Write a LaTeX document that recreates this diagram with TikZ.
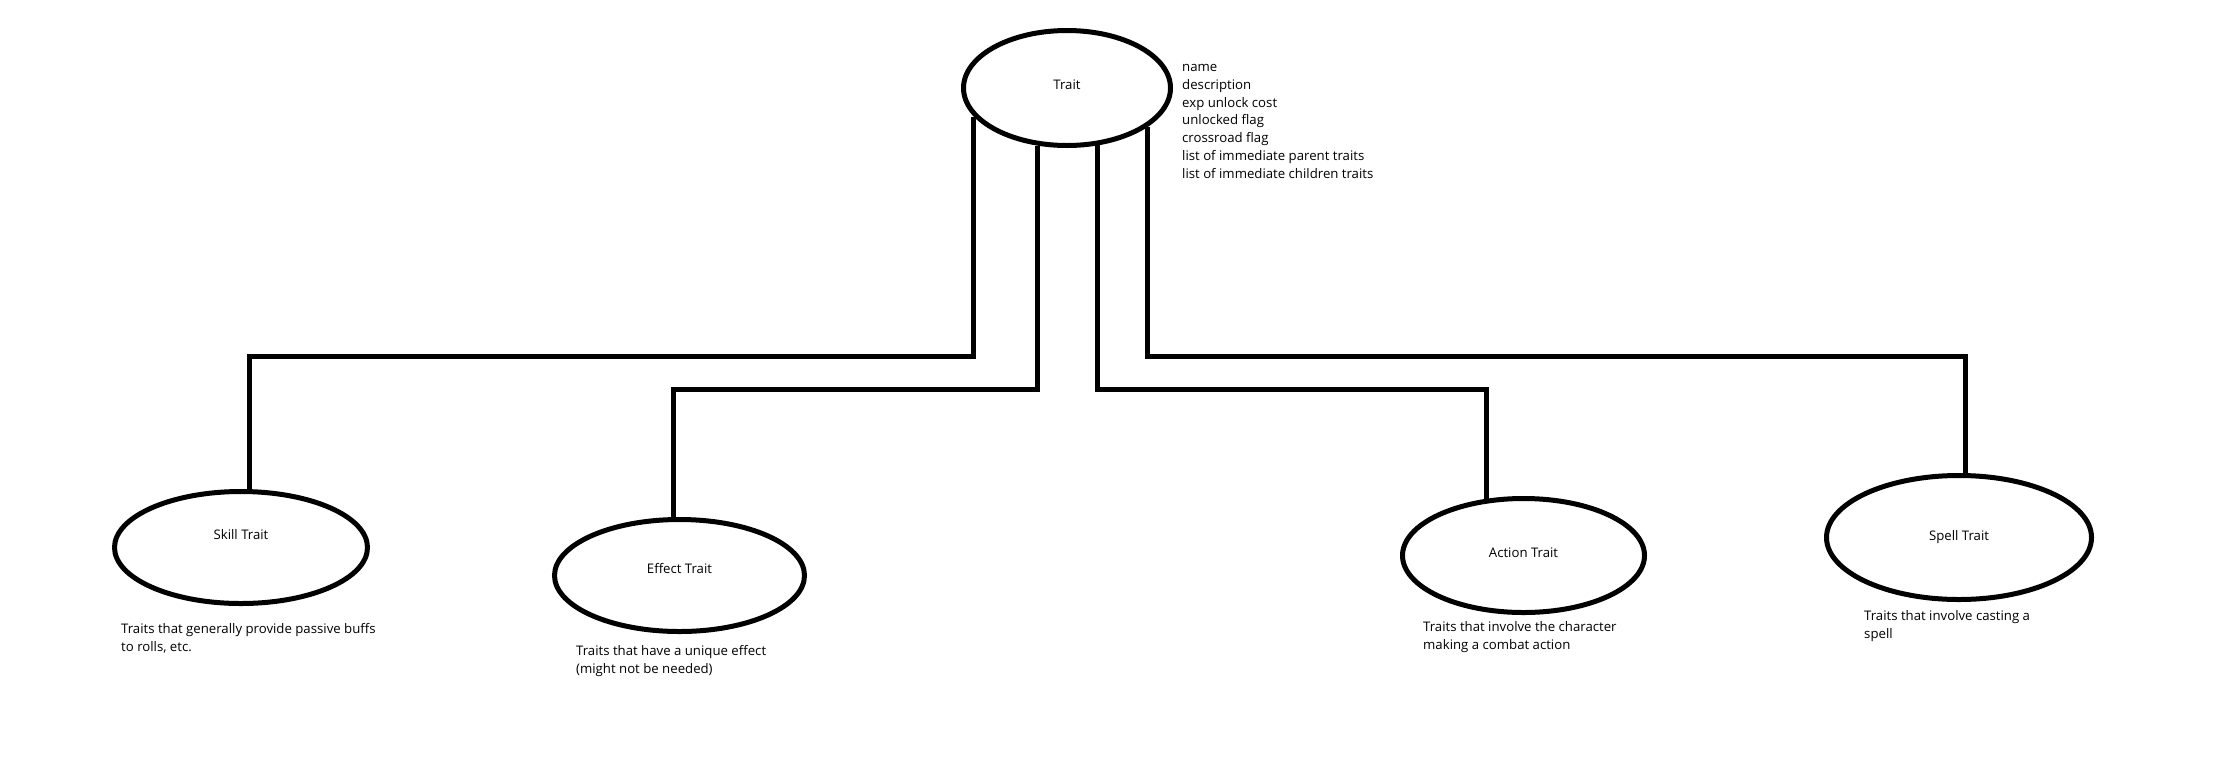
\documentclass[tikz,border=0pt]{standalone}
\usepackage{fontspec}
\setmainfont{Open Sans}
\usetikzlibrary{shapes.geometric}

\begin{document}
\begin{tikzpicture}[x=1pt, y=-1pt,
		trait/.style={ellipse, draw, line width=5pt, inner sep=0pt, font=\fontsize{13.2}{17.9}\selectfont},
		wire/.style={line width=5pt},
		notes/.style={anchor=north west, inner sep=0pt, align=left, font=\fontsize{13.2}{17.9}\selectfont}]
			%%%%% START %%%%%
			
			\useasboundingbox (0, 0) rectangle (2224, 756);
			
			\node[trait, minimum width=207pt, minimum height=115pt, text depth=6pt] (trait) at (1067, 88) {Trait};
			\node[notes] (fields) at (1182, 58.5) {\strut name\\ description\\ exp unlock cost\\ unlocked flag\\ crossroad flag\\ list of immediate parent traits\\ list of immediate children traits};
			
			\node[trait, minimum width=253pt, minimum height=112pt, text depth=27pt] (skill) at (241, 547.5) {Skill Trait};
			\node[notes] (skillnote) at (121, 620.5) {\strut Traits that generally provide passive buffs\\ to rolls, etc.};
			
			\node[trait, minimum width=250pt, minimum height=112pt, text depth=15pt] (effect) at (679.5, 575.5) {Effect Trait};
			\node[notes] (effectnote) at (576, 642.5) {\strut Traits that have a unique effect\\ (might not be needed)};
			
			\node[trait, minimum width=242pt, minimum height=114pt, text depth=5pt] (action) at (1523.5, 555.5) {Action Trait};
			\node[notes] (actionnote) at (1423, 618.5) {\strut Traits that involve the character\\ making a combat action};
			
			\node[trait, minimum width=265pt, minimum height=124pt] (spell) at (1959, 537.5) {Spell Trait};
			\node[notes] (spellnote) at (1864, 607.5) {\strut Traits that involve casting a\\ spell};
			
			\coordinate (upper) at (0, 356);
			\coordinate (lower) at (0, 389);
			
			\draw[wire] (trait.197) -- (trait.197 |- upper) -| (skill.82);
			\draw[wire] (trait.243) -- (trait.243 |- lower) -| (effect.96);
			\draw[wire] (trait.298) -- (trait.298 |- lower) -| (action.123);
			\draw[wire] (trait.334) -- (trait.334 |- upper) -| (spell.84);
			
			%%%%% END %%%%%
		\end{tikzpicture}
\end{document}
